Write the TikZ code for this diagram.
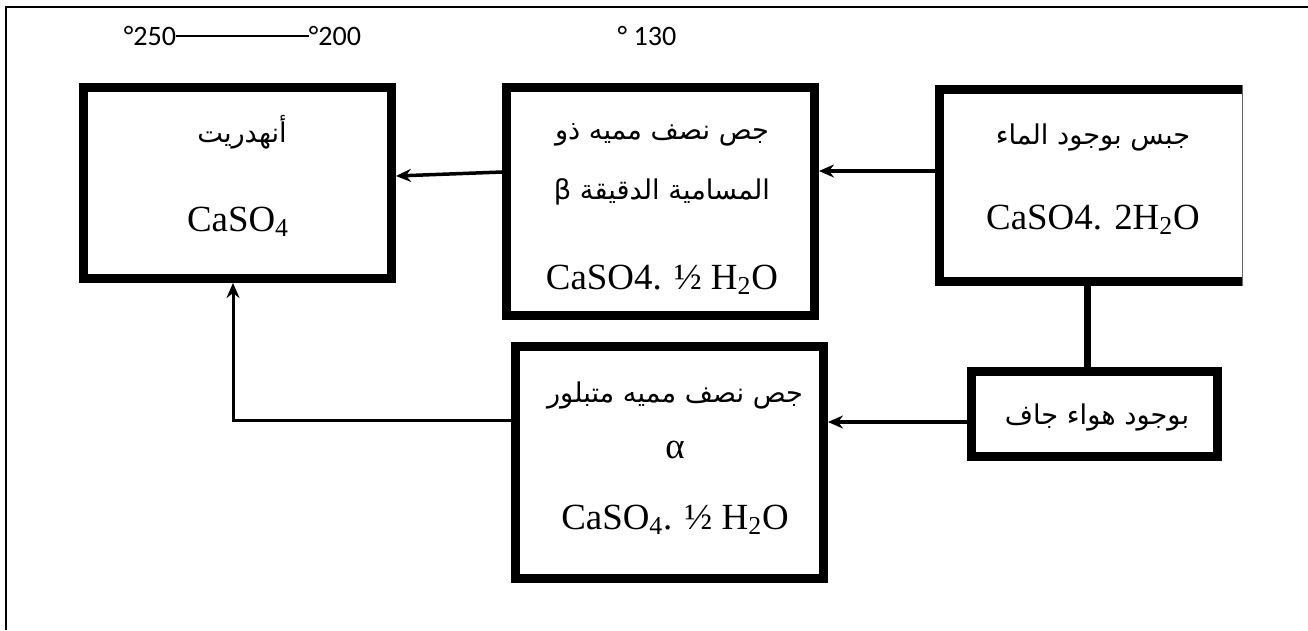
\documentclass[tikz,border=0pt]{standalone}
\usepackage{fontspec}
\setmainfont{Liberation Serif}
\newfontfamily\arabicfont[Script=Arabic]{DejaVu Sans}
\newfontfamily\labelfont{Carlito}
\TeXXeTstate=1
\usetikzlibrary{arrows.meta}

\tikzset{
    box/.style={draw, line width=0.18cm, inner sep=0pt},
    ar/.style={inner sep=0pt, font=\arabicfont\fontsize{15.5}{18}\selectfont},
    chem/.style={inner sep=0pt, font=\fontsize{21}{24}\selectfont},
    temp/.style={inner sep=0pt, font=\labelfont\fontsize{16}{18}\selectfont},
    arr/.style={line width=0.07cm, -{Stealth[length=0.3cm, width=0.26cm]}},
    link/.style={line width=0.14cm}
}

\begin{document}
\begin{tikzpicture}[x=0.02cm, y=-0.02cm]
    \useasboundingbox (0,0) rectangle (1308,630);
    % page frame
    \draw[line width=0.04cm] (1308,7) -- (6,7) -- (6,630);

    % temperatures
    \node[temp] (t250) at (150,36) {°250};
    \node[temp] (t200) at (335,36) {°200};
    \draw[line width=0.04cm] (t250) -- (t200);
    \node[temp] (t130) at (647,36) {° 130};

    % boxes
    \node[box, minimum width=6.16cm, minimum height=3.82cm] (anh) at (237.5,183) {};
    \node[box, minimum width=6.16cm, minimum height=4.56cm] (beta) at (660.5,201.5) {};
    \node[inner sep=0pt, outer sep=0pt, minimum width=6.07cm, minimum height=3.84cm] (dih) at (1091,185.5) {};
    \draw[line width=0.18cm] (dih.north east) -- (dih.north west) -- (dih.south west) -- (dih.south east);
    \draw[line width=0.02cm, black!60] ([yshift=0.09cm]dih.north east) -- ([yshift=-0.09cm]dih.south east);
    \node[box, minimum width=6.16cm, minimum height=4.64cm] (alpha) at (669.5,462.5) {};
    \node[box, minimum width=4.92cm, minimum height=1.70cm] (dry) at (1094.5,414) {};

    % texts
    \node[ar] (anhname) at (242,132) {\beginR أنهدريت\endR};
    \node[chem] (anhf) at (238,222) {CaSO\textsubscript{4}};

    \node[ar] (betaa) at (662,135) {\beginR جص نصف مميه ذو\endR};
    \node[ar] (betab) at (662,192) {\beginR المسامية الدقيقة β\endR};
    \node[chem] (betaf) at (662,280) {CaSO4. ½ H\textsubscript{2}O};

    \node[ar] (diha) at (1093,137) {\beginR جبس بوجود الماء\endR};
    \node[chem] (dihf) at (1093,220) {CaSO4. 2H\textsubscript{2}O};

    \node[ar] (alphaa) at (675,395) {\beginR جص نصف مميه متبلور\endR};
    \node[chem] (alphab) at (675,450) {α};
    \node[chem] (alphaf) at (675,520) {CaSO\textsubscript{4}. ½ H\textsubscript{2}O};

    \node[ar] (drya) at (1097,417) {\beginR بوجود هواء جاف\endR};

    % connectors
    \coordinate (dihout) at ([yshift=0.29cm]dih.west);
    \draw[arr] (dihout) -- (dihout -| beta.east);
    \draw[arr] ([yshift=0.59cm]beta.west) -- ([yshift=0.14cm]anh.east);
    \coordinate (drop) at ([xshift=-0.08cm]dih.south);
    \draw[link] (drop) -- (drop |- dry.north);
    \coordinate (dryout) at ([yshift=-0.16cm]dry.west);
    \draw[arr] (dryout) -- (dryout -| alpha.east);
    \coordinate (alphaout) at ([yshift=0.85cm]alpha.west);
    \draw[arr, line width=0.06cm] (alphaout) -| ([xshift=-0.09cm]anh.south);
\end{tikzpicture}
\end{document}
